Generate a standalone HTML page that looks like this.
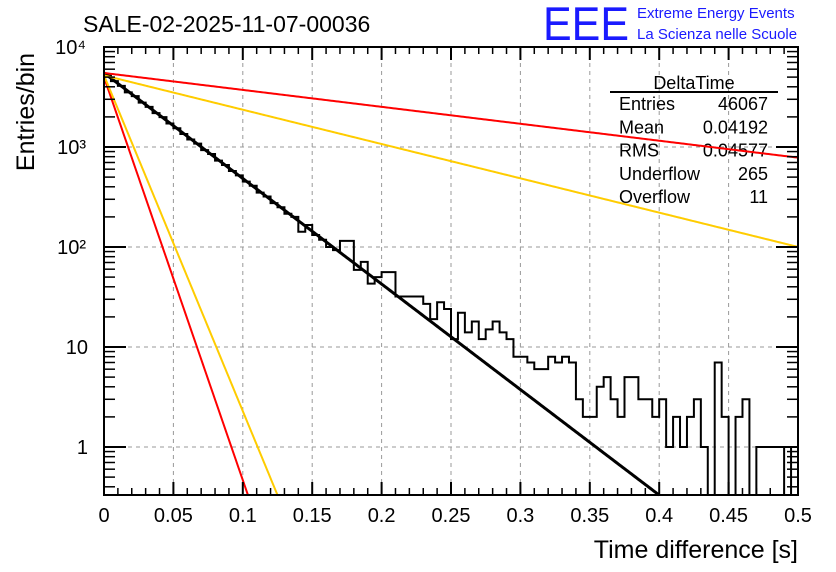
<!DOCTYPE html>
<html><head><meta charset="utf-8"><style>
body{margin:0;background:#fff;}
svg{display:block;font-family:"Liberation Sans",sans-serif;}
</style></head><body>
<svg id="c" width="836" height="572" viewBox="0 0 836 572">
<g id="grid"></g>
<g id="stats">
 <text x="694" y="89" font-size="18" text-anchor="middle">DeltaTime</text>
 <line x1="610" y1="92" x2="778" y2="92" stroke="#000" stroke-width="2"/>
</g>
<g id="hist"></g>
<g id="fits"></g>
<g id="axes"></g>
<text x="83" y="32" font-size="23">SALE-02-2025-11-07-00036</text>
<text x="543" y="40" font-size="47" fill="#1a1aff" textLength="86" lengthAdjust="spacingAndGlyphs">EEE</text>
<text x="637" y="18" font-size="15" fill="#1a1aff">Extreme Energy Events</text>
<text x="637" y="39" font-size="15" fill="#1a1aff">La Scienza nelle Scuole</text>
<text x="798" y="558" font-size="25" text-anchor="end">Time difference [s]</text>
<text transform="translate(34,112) rotate(-90)" font-size="25" text-anchor="middle">Entries/bin</text>
</svg>
<script>
const binCounts=[5180,4560,4080,3520,3230,2780,2520,2180,1990,1720,1540,1350,1190,1080,930,850,730,660,575,520,450,410,350,320,275,250,215,200,142,166,132,118,100,93,115,115,59,71,43,50,56,56,32,32,32,32,27,19,28,24,12,22,14,18,12,15,18,14,12,8,8,7,6,6,8,7,8,7,3,2,2,4,5,3,2,5,5,3,3,2,3,1,2,1,2,3,1,0,7,2,0,2,3,0,1,1,1,1,0,1];
const statLabels=["Entries","Mean","RMS","Underflow","Overflow"];
const statValues=["46067","0.04192","0.04577","265","11"];
const fitAmp=[5500,5500,5200,5000,5200];
const fitSlope=[24.3,3.9,7.9,92.8,77.3];
const fitColor=["#000","#ff0000","#ffcc00","#ff0000","#ffcc00"];
const xTicks=[0,0.05,0.1,0.15,0.2,0.25,0.3,0.35,0.4,0.45,0.5];
const xTickLabels=["0","0.05","0.1","0.15","0.2","0.25","0.3","0.35","0.4","0.45","0.5"];
const yDecades=[0,1,2,3,4];
const yDecadeLabels=["1","10","10²","10³","10⁴"];

const X0=104,X1=798,Y0=495,Y1=47,XMAX=0.5,BINW=0.005;
const LMIN=4-(Y0-Y1)/100,LMAX=4;
const sx=v=>X0+(v/XMAX)*(X1-X0);
const sy=v=>{const l=Math.log10(Math.max(v,1e-9));return Y1+(LMAX-l)/(LMAX-LMIN)*(Y0-Y1);};
const cy=y=>Math.min(Math.max(y,Y1),Y0);
const NS="http://www.w3.org/2000/svg";
function mk(tag,attrs,parent){const e=document.createElementNS(NS,tag);for(const k in attrs)e.setAttribute(k,attrs[k]);parent.appendChild(e);return e;}
const grid=document.getElementById('grid'),axes=document.getElementById('axes'),hist=document.getElementById('hist'),fits=document.getElementById('fits'),stats=document.getElementById('stats');

xTicks.forEach((t,i)=>{
 if(i>0&&i<xTicks.length-1){const g=mk('line',{x1:sx(t),x2:sx(t),y1:Y1,y2:Y0,stroke:'#999','stroke-dasharray':'4,4','stroke-width':1},grid);
 
 }
 const l=mk('text',{x:sx(t),y:522,'font-size':20,'text-anchor':'middle'},axes);l.textContent=xTickLabels[i];
 
 
 mk('line',{x1:sx(t),x2:sx(t),y1:Y0,y2:Y0-13,stroke:'#000','stroke-width':2},axes);
 mk('line',{x1:sx(t),x2:sx(t),y1:Y1,y2:Y1+13,stroke:'#000','stroke-width':2},axes);
});
for(let k=0;k<=50;k++){if(k%5===0)continue;const x=sx(k*0.01);
 mk('line',{x1:x,x2:x,y1:Y0,y2:Y0-7,stroke:'#000','stroke-width':1.5},axes);
 mk('line',{x1:x,x2:x,y1:Y1,y2:Y1+7,stroke:'#000','stroke-width':1.5},axes);}
yDecades.forEach((d,i)=>{
 const y=sy(Math.pow(10,d));
 if(d<4){const g=mk('line',{x1:X0,x2:X1,y1:y,y2:y,stroke:'#999','stroke-dasharray':'4,4','stroke-width':1},grid);
 
 }
 const l=mk('text',{x:d>=2?86:(d==1?88:88),y:y+7,'font-size':20,'text-anchor':'end'},axes);l.textContent=yDecadeLabels[i];
 
 
 mk('line',{x1:X0,x2:X0+22,y1:y,y2:y,stroke:'#000','stroke-width':2},axes);
 mk('line',{x1:X1,x2:X1-22,y1:y,y2:y,stroke:'#000','stroke-width':2},axes);
});
for(let d=-1;d<4;d++)for(let m=2;m<=9;m++){const y=sy(m*Math.pow(10,d));if(y>Y0||y<Y1)continue;
 mk('line',{x1:X0,x2:X0+11,y1:y,y2:y,stroke:'#000','stroke-width':1.5},axes);
 mk('line',{x1:X1,x2:X1-11,y1:y,y2:y,stroke:'#000','stroke-width':1.5},axes);}
mk('rect',{x:X0,y:Y1,width:X1-X0,height:Y0-Y1,fill:'none',stroke:'#000','stroke-width':2},axes);

statLabels.forEach((s,i)=>{const y=110+i*23.3;
 const a=mk('text',{x:619,y:y,'font-size':18},stats);a.textContent=s;
 
 
 const b=mk('text',{x:768,y:y,'font-size':18,'text-anchor':'end'},stats);b.textContent=statValues[i];
 
 });

let d='',prev=Y0;
binCounts.forEach((c,i)=>{const xa=sx(i*BINW),xb=sx((i+1)*BINW);const y=c>0?cy(sy(c)):Y0;
 d+=(i===0?`M${xa},${y}`:`L${xa},${prev}L${xa},${y}`)+`L${xb},${y}`;prev=y;});
const hp=mk('path',{d:d,fill:'none',stroke:'#000','stroke-width':2},hist);



fitAmp.forEach((A,j)=>{let p='';for(let k=0;k<=400;k++){const t=k/400*XMAX;const v=A*Math.exp(-fitSlope[j]*t);
 if(sy(v)>Y0){const tt=Math.log(A/Math.pow(10,LMIN))/fitSlope[j];p+=`L${sx(tt)},${Y0}`;break;}
 p+=(k===0?'M':'L')+sx(t)+','+sy(v);}
 const l=mk('path',{d:p,fill:'none',stroke:fitColor[j],'stroke-width':j===0?3:2},fits);
 
 });
</script>
</body></html>
